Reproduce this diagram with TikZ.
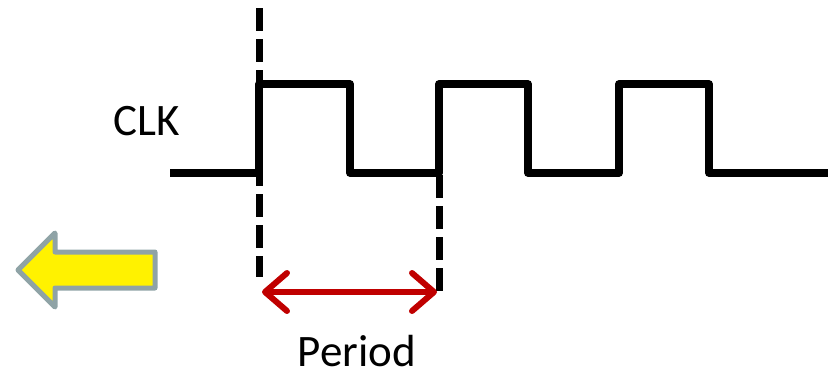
\documentclass[tikz,border=0pt]{standalone}
\usepackage{fontspec}
\setmainfont{Carlito}
\usepackage{xcolor}
\usetikzlibrary{arrows.meta, positioning}
\definecolor{darkred}{HTML}{C00000}
\definecolor{arrowgray}{HTML}{8FA3A6}

\begin{document}
\begin{tikzpicture}[
      x=1pt, y=-1pt,
      signal/.style={line width=7.5pt, line join=round},
      marker/.style={line width=7pt, dash pattern=on 23pt off 8pt},
      span/.style={darkred, line width=6pt, {Straight Barb[round, length=22pt, width=38pt]}-{Straight Barb[round, length=22pt, width=38pt]}},
      every node/.style={font=\fontsize{45}{54}\selectfont}
    ]
      \useasboundingbox (0,0) rectangle (828,378);
      % clock waveform
      \draw[signal] (170,173) -- (259,173) -- (259,84) -- (350,84) -- (350,173)
        -- (439,173) -- (439,84) -- (528,84) -- (528,173)
        -- (619,173) -- (619,84) -- (709,84) -- (709,173) -- (828,173);
      \node (clk) at (147,121) {CLK};
      % period markers
      \coordinate (topA) at (259,8);
      \coordinate (botA) at (259,277);
      \coordinate (topB) at (439,175);
      \coordinate (botB) at (439,293);
      \draw[marker] (topA) -- (botA);
      \draw[marker] (topB) -- (botB);
      \coordinate (spanA) at (262,292);
      \coordinate (spanB) at (437,292);
      \draw[span] (spanA) -- (spanB);
      \node[inner sep=0pt, anchor=base] (period) at (357,366) {Period};
      % direction arrow
      \draw[arrowgray, fill=yellow, line width=5pt, line join=round]
        (18,270) -- (55,233) -- (55,252) -- (155,252) -- (155,288)
        -- (55,288) -- (55,307) -- cycle;
    \end{tikzpicture}
\end{document}
